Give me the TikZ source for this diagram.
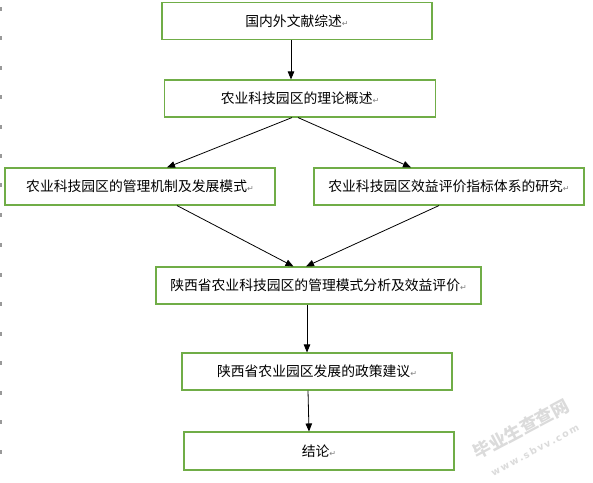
\documentclass[tikz,border=0pt]{standalone}
\usepackage{fontspec}
\newfontfamily\cjk{Noto Sans CJK SC}
\newfontfamily\dejavu{DejaVu Sans}
\usetikzlibrary{arrows.meta,calc}
\definecolor{boxgreen}{RGB}{112,173,71}
\newcommand{\pmark}{{\dejavu\fontsize{8}{8}\selectfont\color{gray}↵}}
\begin{document}
\begin{tikzpicture}[x=1pt,y=-1pt,
  box/.style={draw=boxgreen,line width=1.1pt,minimum height=37pt,inner sep=0pt,
    font=\cjk\fontsize{13.8}{14}\selectfont},
  arr/.style={line width=0.8pt,-{Triangle[length=8pt,width=6.5pt]}},
  tick/.style={fill=gray!80,draw=none}]
\useasboundingbox (0,0) rectangle (593,482);
\fill[white] (0,0) rectangle (593,482);
% margin ticks
\foreach \yy in {8.5,38,67.5,97,126.5,156,185,215,245,274.5,304,333.5,363,392.5,422,451.5}
  \fill[tick] (0,\yy-2) rectangle (1.6,\yy+2);
% boxes
\node[box,minimum width=270pt] (b1) at (297,21) {国内外文献综述\pmark};
\node[box,minimum width=271pt] (b2) at (300,98.5) {农业科技园区的理论概述\pmark};
\node[box,minimum width=270pt] (b3) at (140,186.5) {农业科技园区的管理机制及发展模式\pmark};
\node[box,minimum width=270pt] (b4) at (449,186.5) {农业科技园区效益评价指标体系的研究\pmark};
\node[box,minimum width=325pt] (b5) at (318.5,285.5) {陕西省农业科技园区的管理模式分析及效益评价\pmark};
\node[box,minimum width=270pt] (b6) at (317,371.5) {陕西省农业园区发展的政策建议\pmark};
\node[box,minimum width=270pt,minimum height=38pt] (b7) at (319,451) {结论\pmark};
% connectors
\draw[arr] ($(b1.south)+(-6,0)$) -- ($(b2.north)+(-9,0)$);
\draw[arr] ($(b2.south)+(-8,0)$) -- ($(b3.north)+(27,0)$);
\draw[arr] ($(b2.south)+(-2,0)$) -- ($(b4.north)+(-38,0)$);
\draw[arr] ($(b3.south)+(37,0)$) -- ($(b5.north)+(-25,0)$);
\draw[arr] ($(b4.south)+(-10,0)$) -- ($(b5.north)+(-12.5,0)$);
\draw[arr] ($(b5.south)+(-11.5,0)$) -- ($(b6.north)+(-10,0)$);
\draw[arr] ($(b6.south)+(-9,0)$) -- ($(b7.north)+(-10,0)$);
% watermark
\node[rotate=28,text=gray!28,font=\cjk\bfseries\fontsize{17.5}{17.5}\selectfont] (wm1) at (521,429) {毕业生查查网};
\node[rotate=28,text=gray!28,font=\dejavu\bfseries\fontsize{9.5}{9.5}\selectfont] (wm2) at (535,450) {w\,w\,w\,.\,s\,b\,v\,v\,.\,c\,o\,m};
\end{tikzpicture}
\end{document}
